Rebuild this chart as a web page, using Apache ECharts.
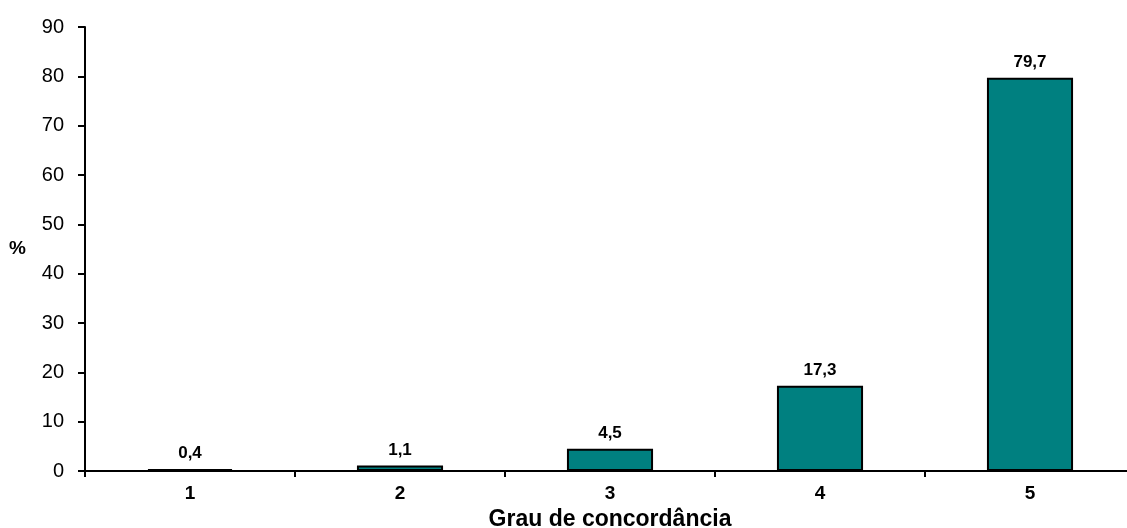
<!DOCTYPE html>
<html>
<head>
<meta charset="utf-8">
<script src="https://cdn.jsdelivr.net/npm/echarts@6/dist/echarts.min.js"></script>
<style>
  html, body { margin: 0; padding: 0; background: #fff; }
  #chart { width: 1127px; height: 528px; }
</style>
</head>
<body>
<div id="chart"></div>
<script>
// Agreement levels and share of responses (%)
const categories = ['1', '2', '3', '4', '5'];
const percentages = [0.4, 1.1, 4.5, 17.3, 79.7];
const yTicks = [0, 10, 20, 30, 40, 50, 60, 70, 80, 90];

const FONT = '"Liberation Sans", Arial, sans-serif';

const chart = echarts.init(document.getElementById('chart'), null, { renderer: 'canvas' });

chart.setOption({
  animation: false,
  backgroundColor: '#ffffff',
  grid: { left: 85, right: -8, top: 27, bottom: 57, containLabel: false, outerBoundsMode: 'none' },
  xAxis: {
    type: 'category',
    data: categories,
    name: 'Grau de concordância',
    nameLocation: 'middle',
    nameGap: 37,
    nameTextStyle: { fontFamily: FONT, fontSize: 23, fontWeight: 'bold', color: '#000' },
    axisLine: { lineStyle: { color: '#000', width: 2 } },
    axisTick: { show: true, length: 6, lineStyle: { color: '#000', width: 2 } },
    axisLabel: { fontFamily: FONT, fontSize: 19, fontWeight: 'bold', color: '#000', margin: 13 }
  },
  yAxis: {
    type: 'value',
    min: yTicks[0],
    max: yTicks[yTicks.length - 1],
    interval: 10,
    name: '%',
    nameLocation: 'middle',
    nameRotate: 0,
    nameGap: 59,
    nameTextStyle: { fontFamily: FONT, fontSize: 19, fontWeight: 'bold', color: '#000', padding: [0, 0, 9, 0] },
    splitLine: { show: false },
    axisLine: { show: true, lineStyle: { color: '#000', width: 2 } },
    axisTick: { show: true, length: 7, lineStyle: { color: '#000', width: 2 } },
    axisLabel: { fontFamily: FONT, fontSize: 20, color: '#000', margin: 21 }
  },
  series: [{
    type: 'bar',
    data: percentages,
    barWidth: '41%',
    itemStyle: { color: '#008080', borderColor: '#000', borderWidth: 2 },
    label: {
      show: true,
      position: 'top',
      distance: 7,
      fontFamily: FONT,
      fontSize: 17,
      fontWeight: 'bold',
      color: '#000',
      formatter: p => p.value.toFixed(1).replace('.', ',')
    }
  }]
});
</script>
</body>
</html>
